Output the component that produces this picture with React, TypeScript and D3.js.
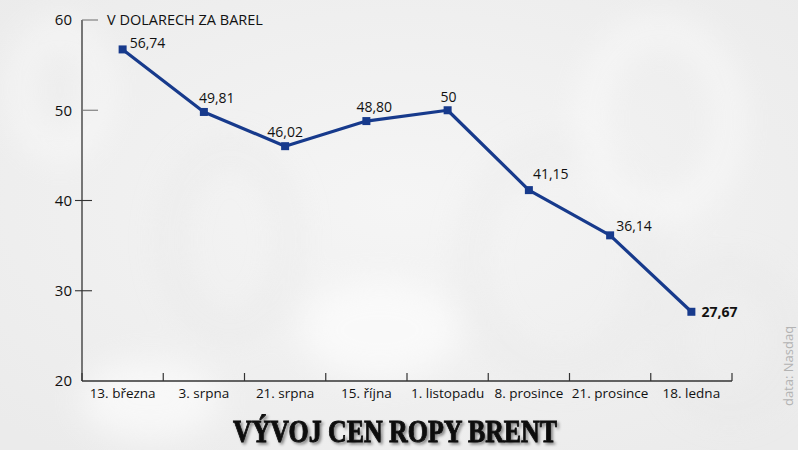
import React from "react";
import * as d3 from "d3";

const categories = ["13. března", "3. srpna", "21. srpna", "15. října", "1. listopadu", "8. prosince", "21. prosince", "18. ledna"];
const prices = [56.74, 49.81, 46.02, 48.8, 50, 41.15, 36.14, 27.67];
const priceLabels = ["56,74", "49,81", "46,02", "48,80", "50", "41,15", "36,14", "27,67"];
const yTicks = [20, 30, 40, 50, 60];
const title = "VÝVOJ CEN ROPY BRENT";
const unitLabel = "V DOLARECH ZA BAREL";
const source = "data: Nasdaq";

const W = 798;
const H = 450;
const left = 82;
const right = 732;
const top = 20;
const bottom = 381;

const labelPlacement: { anchor: string; dx: number; dy: number }[] = [
  { anchor: "start", dx: 7, dy: -1 },
  { anchor: "start", dx: -5, dy: -9 },
  { anchor: "middle", dx: 0, dy: -9 },
  { anchor: "start", dx: -10, dy: -9 },
  { anchor: "middle", dx: 1, dy: -8 },
  { anchor: "start", dx: 4, dy: -11 },
  { anchor: "start", dx: 6, dy: -4 },
  { anchor: "start", dx: 10, dy: 5 },
];

export default function App() {
  const x = d3.scaleBand<string>().domain(categories).range([left, right]).padding(0);
  const y = d3.scaleLinear().domain([20, 60]).range([bottom, top]);
  const cx = (c: string) => (x(c) as number) + x.bandwidth() / 2;
  const line = d3
    .line<number>()
    .x((_, i) => cx(categories[i]))
    .y((d) => y(d));
  const font = "'Open Sans', 'Noto Sans', sans-serif";
  const blue = "#173a8c";
  const boundaries = [...categories.map((c) => x(c) as number), right];

  return (
    <svg width={W} height={H} style={{ position: "absolute", left: 0, top: 0 }}>
      <defs>
        <filter id="blur" x="-50%" y="-50%" width="200%" height="200%">
          <feGaussianBlur stdDeviation="16" />
        </filter>
        <filter id="shadow" x="-10%" y="-30%" width="120%" height="160%">
          <feDropShadow dx="2" dy="2" stdDeviation="1.5" floodColor="#000" floodOpacity="0.45" />
        </filter>
        <radialGradient id="bg" cx="50%" cy="45%" r="70%">
          <stop offset="0%" stopColor="#f5f5f5" />
          <stop offset="100%" stopColor="#ebebeb" />
        </radialGradient>
      </defs>
      <rect width={W} height={H} fill="url(#bg)" />
      <g filter="url(#blur)" opacity="0.6">
        <ellipse cx={60} cy={90} rx={40} ry={60} fill="none" stroke="#ffffff" strokeWidth={18} />
        <ellipse cx={230} cy={240} rx={60} ry={90} fill="none" stroke="#e4e4e4" strokeWidth={14} />
        <ellipse cx={560} cy={260} rx={90} ry={110} fill="none" stroke="#e6e6e6" strokeWidth={16} />
        <ellipse cx={660} cy={120} rx={70} ry={90} fill="none" stroke="#ffffff" strokeWidth={20} />
        <ellipse cx={380} cy={330} rx={80} ry={50} fill="#ffffff" />
        <ellipse cx={730} cy={340} rx={60} ry={70} fill="none" stroke="#e5e5e5" strokeWidth={14} />
        <ellipse cx={150} cy={400} rx={70} ry={40} fill="#ffffff" />
      </g>

      {/* y axis */}
      <line x1={left} x2={left} y1={y(60)} y2={y(20)} stroke="#333" strokeWidth={1.3} />
      {yTicks.map((t) => (
        <g key={t}>
          {t !== 20 && (
            <line
              x1={t >= 50 ? left : left - 7}
              x2={t >= 50 ? left + 16 : left + 10}
              y1={y(t)}
              y2={y(t)}
              stroke={t >= 50 ? "#777" : "#333"}
              strokeWidth={1.1}
            />
          )}
          <text x={72} y={y(t)} dy="0.36em" textAnchor="end" fontFamily={font} fontSize={15} fill="#111">
            {t}
          </text>
        </g>
      ))}
      <text x={107} y={25} fontFamily={font} fontSize={14.5} fill="#111">
        {unitLabel}
      </text>

      {/* x axis */}
      <line x1={left} x2={right} y1={bottom} y2={bottom} stroke="#333" strokeWidth={1.3} />
      {boundaries.map((b, i) => (
        <line key={i} x1={b} x2={b} y1={bottom} y2={bottom - 8} stroke="#333" strokeWidth={1.2} />
      ))}
      {categories.map((c) => (
        <text key={c} x={cx(c)} y={398} textAnchor="middle" fontFamily={font} fontSize={13.5} fill="#111">
          {c}
        </text>
      ))}

      {/* line */}
      <path d={line(prices) || ""} fill="none" stroke={blue} strokeWidth={3.2} strokeLinejoin="round" />
      {prices.map((p, i) => (
        <rect key={i} x={cx(categories[i]) - 4} y={y(p) - 4} width={8} height={8} fill={blue} />
      ))}
      {prices.map((p, i) => {
        const pl = labelPlacement[i];
        const last = i === prices.length - 1;
        return (
          <text
            key={i}
            x={cx(categories[i]) + pl.dx}
            y={y(p) + pl.dy}
            textAnchor={pl.anchor}
            fontFamily={font}
            fontSize={14}
            fontWeight={last ? 700 : 400}
            fill="#111"
          >
            {priceLabels[i]}
          </text>
        );
      })}

      {/* title */}
      <text
        x={395}
        y={442}
        textAnchor="middle"
        fontFamily="'Liberation Serif', 'DejaVu Serif', serif"
        fontWeight={700}
        fontSize={32}
        textLength={324}
        lengthAdjust="spacingAndGlyphs"
        fill="#0a0a0a"
        stroke="#0a0a0a"
        strokeWidth={0.9}
        filter="url(#shadow)"
      >
        {title}
      </text>

      {/* source */}
      <text
        transform="translate(793,366) rotate(-90)"
        textAnchor="middle"
        fontFamily={font}
        fontSize={13}
        fill="#b3b3b3"
      >
        {source}
      </text>
    </svg>
  );
}
